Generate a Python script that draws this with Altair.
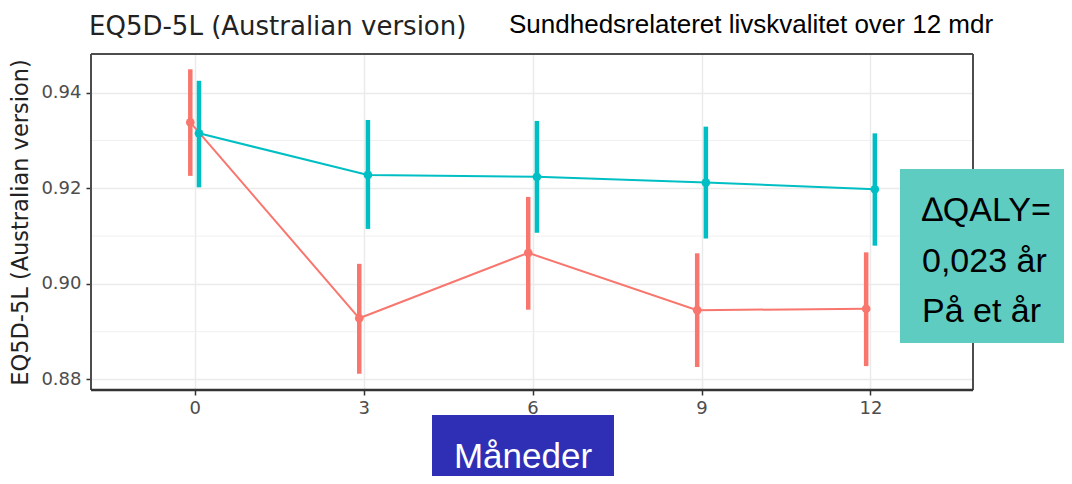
import altair as alt
import pandas as pd

# ---- data ----
months = [0, 3, 6, 9, 12]
groups = ["Gruppe 1", "Gruppe 2"]
g1_mean = [0.9338, 0.8928, 0.9065, 0.8945, 0.8948]
g1_lo = [0.9226, 0.8812, 0.8946, 0.8826, 0.8828]
g1_hi = [0.9449, 0.9042, 0.9182, 0.9064, 0.9066]
g2_mean = [0.9315, 0.9228, 0.9224, 0.9212, 0.9198]
g2_lo = [0.9202, 0.9115, 0.9107, 0.9095, 0.9080]
g2_hi = [0.9425, 0.9343, 0.9341, 0.9329, 0.9315]
y_ticks = [0.88, 0.90, 0.92, 0.94]
y_minor = [0.89, 0.91, 0.93]
x_ticks = [0, 3, 6, 9, 12]
colors = ["#F8766D", "#00BFC4"]

title_text = "EQ5D-5L (Australian version)"
subtitle_text = "Sundhedsrelateret livskvalitet over 12 mdr"
xlabel_text = "Måneder"
box_lines = ["∆QALY=", "0,023 år", "På et år"]

rows = []
for g, m, lo, hi in [(groups[0], g1_mean, g1_lo, g1_hi), (groups[1], g2_mean, g2_lo, g2_hi)]:
    for i, mo in enumerate(months):
        rows.append({"group": g, "month": mo, "mean": m[i], "lo": lo[i], "hi": hi[i]})
df = pd.DataFrame(rows)
grid_df = pd.DataFrame({"g": y_minor})
one = pd.DataFrame({"a": [0]})

W, H = 882, 336
FONT = "DejaVu Sans"
SANS = "Liberation Sans, Arial, Helvetica"

xscale = alt.Scale(domain=[-1.84, 13.82], nice=False, zero=False)
yscale = alt.Scale(domain=[0.8778, 0.9481], nice=False, zero=False)
xaxis = alt.Axis(values=x_ticks, title=None, grid=True, gridColor="#EBEBEB", gridWidth=1.5,
                 domain=False, tickColor="#333333", tickSize=5, tickWidth=1.5,
                 labelFont=FONT, labelFontSize=18, labelColor="#4D4D4D", labelPadding=4, format="d")
yaxis = alt.Axis(values=y_ticks, format=".2f", title=title_text, grid=True, gridColor="#EBEBEB",
                 gridWidth=1.5, domain=False, tickColor="#333333", tickSize=5, tickWidth=1.5,
                 labelFont=FONT, labelFontSize=18, labelColor="#4D4D4D", labelPadding=5,
                 titleFont=FONT, titleFontSize=22.5, titleFontWeight="normal", titleColor="#222222",
                 titleX=-71, titleY=H / 2, titleBaseline="middle")
color = alt.Color("group:N", scale=alt.Scale(domain=groups, range=colors), legend=None)

base = alt.Chart(df).transform_calculate(
    xd="datum.month + (datum.group == 'Gruppe 1' ? -0.077 : 0.077)"
)
X = alt.X("xd:Q", scale=xscale, axis=xaxis)

minor = alt.Chart(grid_df).mark_rule(color="#F0F0F0", strokeWidth=1).encode(
    y=alt.Y("g:Q", scale=yscale, axis=yaxis)
)
lines = base.mark_line(strokeWidth=2).encode(
    x=X, y=alt.Y("mean:Q", scale=yscale, axis=yaxis), color=color, detail="group:N"
)
bars = base.mark_rule(strokeWidth=4.5).encode(
    x=X, y=alt.Y("lo:Q", scale=yscale, axis=yaxis), y2="hi:Q", color=color
)
pts = base.mark_circle(size=75, opacity=1).encode(
    x=X, y=alt.Y("mean:Q", scale=yscale, axis=yaxis), color=color
)

fc = "#4D4D4D"
fw = 2
frame_l = alt.Chart(one).mark_rule(color=fc, strokeWidth=fw).encode(x=alt.value(0), y=alt.value(0), y2=alt.value(H))
frame_r = alt.Chart(one).mark_rule(color=fc, strokeWidth=fw).encode(x=alt.value(W), y=alt.value(0), y2=alt.value(H))
frame_t = alt.Chart(one).mark_rule(color=fc, strokeWidth=fw).encode(y=alt.value(0), x=alt.value(0), x2=alt.value(W))
frame_b = alt.Chart(one).mark_rule(color="#333333", strokeWidth=2.5).encode(y=alt.value(H), x=alt.value(0), x2=alt.value(W))

title = alt.Chart(one).mark_text(align="left", baseline="alphabetic", font=FONT, fontSize=26,
                                 color="#222222").encode(x=alt.value(-2), y=alt.value(-19), text=alt.value(title_text))
subtitle = alt.Chart(one).mark_text(align="left", baseline="alphabetic", font=SANS, fontSize=26,
                                    color="#000000").encode(x=alt.value(418), y=alt.value(-21), text=alt.value(subtitle_text))

xbox = alt.Chart(one).mark_rect(color="#2F2FB5").encode(
    x=alt.value(341), x2=alt.value(523), y=alt.value(361), y2=alt.value(430))
xlab = alt.Chart(one).mark_text(align="center", baseline="alphabetic", font=SANS, fontSize=35,
                                color="#FFFFFF").encode(x=alt.value(432), y=alt.value(414), text=alt.value(xlabel_text))

qbox = alt.Chart(one).mark_rect(color="#5ECCC0").encode(
    x=alt.value(809), x2=alt.value(990), y=alt.value(115), y2=alt.value(289))
qtexts = []
for i, t in enumerate(box_lines):
    qtexts.append(alt.Chart(one).mark_text(align="left", baseline="alphabetic", font=SANS, fontSize=34,
                                           color="#000000").encode(x=alt.value(831), y=alt.value(167 + 50.5 * i),
                                                                    text=alt.value(t)))

chart = alt.layer(
    minor, lines, bars, pts, frame_l, frame_r, frame_t, frame_b,
    title, subtitle, xbox, xlab, qbox, *qtexts
).properties(
    width=W, height=H,
    padding={"left": 83, "top": 46, "right": 91, "bottom": 86},
    autosize=alt.AutoSizeParams(type="none"),
).configure_view(stroke=None).configure(background="white")

chart.save("out.html", embed_options={"renderer": "svg", "actions": False})
